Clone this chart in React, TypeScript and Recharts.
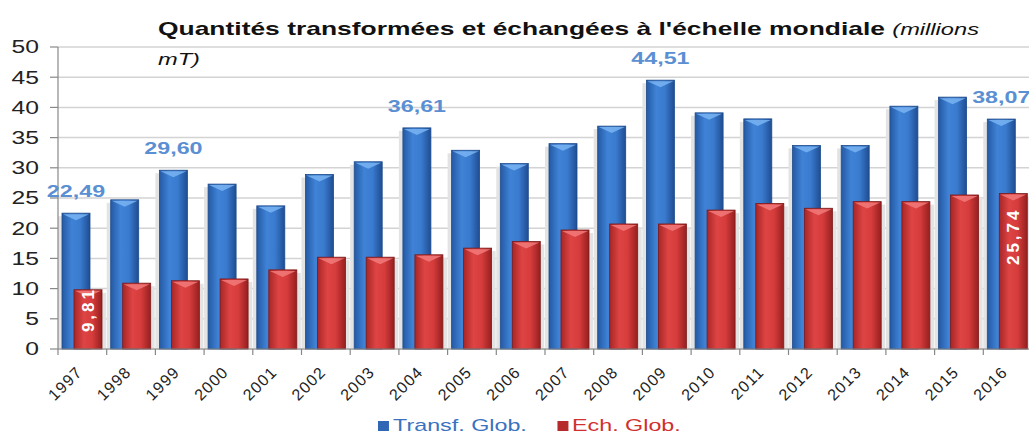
import React from "react";
import { BarChart, Bar, XAxis, YAxis, CartesianGrid, LabelList } from "recharts";

const years = ["1997", "1998", "1999", "2000", "2001", "2002", "2003", "2004", "2005", "2006",
    "2007", "2008", "2009", "2010", "2011", "2012", "2013", "2014", "2015", "2016"];
const transfGlob = [22.49, 24.7, 29.6, 27.3, 23.7, 28.9, 31.0, 36.61, 32.9, 30.7,
    34.0, 36.9, 44.51, 39.1, 38.1, 33.7, 33.7, 40.2, 41.7, 38.07];
const echGlob = [9.81, 10.9, 11.3, 11.6, 13.1, 15.2, 15.2, 15.6, 16.7, 17.8,
    19.7, 20.7, 20.7, 23.0, 24.1, 23.3, 24.4, 24.4, 25.5, 25.74];
const transfLabelYears = ["1997", "1999", "2004", "2009", "2016"];
const echLabelYears = ["1997", "2016"];
const yTicks = [0, 5, 10, 15, 20, 25, 30, 35, 40, 45, 50];

const data = years.map((year, i) => ({
    year,
    transf: transfGlob[i],
    ech: echGlob[i],
    transfLabel: transfLabelYears.includes(year) ? transfGlob[i] : null,
    echLabel: echLabelYears.includes(year) ? echGlob[i] : null,
}));

const FONT = "'Liberation Sans', Arial, sans-serif";
const STRETCH = 1.37;
const CHART_W = 1040;
const PLOT_LEFT = 58;
const PLOT_RIGHT = 8;
const band = (CHART_W - PLOT_LEFT - PLOT_RIGHT) / years.length;

const fmt = (v: number) => v.toFixed(2).replace(".", ",");

const YTick = (p: any) => (
    <text
        transform={`translate(${p.x},${p.y}) scale(${STRETCH},1)`}
        textAnchor="end"
        dy="0.36em"
        fontSize={18}
        fill="#222"
        fontFamily={FONT}
    >
        {p.payload.value}
    </text>
);

const XTick = (p: any) => (
    <g>
        <line x1={p.x - band / 2} x2={p.x - band / 2} y1={p.y} y2={p.y + 6} stroke="#888" strokeWidth={1.2} />
        <text
            transform={`translate(${p.x + 1},${p.y + 24}) rotate(-45)`}
            textAnchor="end"
            fontSize={16}
            fill="#222"
            fontFamily={FONT}
            letterSpacing={1.2}
        >
            {p.payload.value}
        </text>
    </g>
);

const cylinder = (gradId: string, cap: string, edge: string, shadowSide: number) => (p: any) => {
    const { x, y, width, height } = p;
    if (!height || height <= 0) return <g />;
    const c = Math.min(7, height);
    const sx = shadowSide > 0 ? x + width : x - 4;
    return (
        <g>
            <rect x={sx} y={y + 3} width={4} height={height - 3} fill="#e3e3e3" />
            <rect x={x} y={y} width={width} height={height} fill={`url(#${gradId})`} stroke={edge} strokeWidth={0.8} />
            <polygon
                points={`${x + 1},${y + 1} ${x + width - 1},${y + 1} ${x + width / 2},${y + c} `}
                fill={cap}
                opacity={0.85}
            />
        </g>
    );
};

const TransfLabel = (p: any) => {
    if (p.value == null) return null;
    const cx = p.x + p.width / 2;
    return (
        <text
            transform={`translate(${cx},${p.y - 16}) scale(${STRETCH},1)`}
            textAnchor="middle"
            fontSize={17}
            fontWeight="bold"
            fill="#5b8fd3"
            fontFamily={FONT}
        >
            {fmt(p.value)}
        </text>
    );
};

const EchLabel = (p: any) => {
    if (p.value == null) return null;
    const txt = fmt(p.value);
    const len = txt.length * 10.5;
    const start = Math.min(p.y + 14, p.y + p.height - len - 20);
    const cx = p.x + p.width / 2 + 6;
    return (
        <text
            transform={`translate(${cx},${start}) rotate(-90)`}
            textAnchor="end"
            fontSize={17}
            fontWeight="bold"
            fill="#fff"
            fontFamily={FONT}
            letterSpacing={3}
        >
            {txt}
        </text>
    );
};

export default function App() {
    return (
        <div style={{ position: "absolute", left: 0, top: 0, width: 1029, height: 434, overflow: "hidden", background: "#fff", fontFamily: FONT }}>
            <div style={{ position: "absolute", left: 158, top: 14, transform: `scaleX(1.39)`, transformOrigin: "left top", whiteSpace: "nowrap", lineHeight: "30px", fontSize: 19, color: "#111" }}>
                <div>
                    <span style={{ fontWeight: "bold" }}>Quantités transformées et échangées à l'échelle mondiale</span>{" "}
                    <span style={{ fontStyle: "italic", fontSize: 17 }}>(millions</span>
                </div>
                <div style={{ fontStyle: "italic", fontSize: 17 }}>mT)</div>
            </div>
            <BarChart
                width={CHART_W}
                height={434}
                data={data}
                margin={{ top: 47, right: PLOT_RIGHT, left: 0, bottom: 25 }}
                barSize={28}
                barGap={-16}
            >
                <defs>
                    <linearGradient id="gBlue" x1="0" y1="0" x2="1" y2="0">
                        <stop offset="0%" stopColor="#2459a3" />
                        <stop offset="35%" stopColor="#3f82d6" />
                        <stop offset="65%" stopColor="#3a7bcf" />
                        <stop offset="100%" stopColor="#1f4d92" />
                    </linearGradient>
                    <linearGradient id="gRed" x1="0" y1="0" x2="1" y2="0">
                        <stop offset="0%" stopColor="#a82626" />
                        <stop offset="35%" stopColor="#de4444" />
                        <stop offset="65%" stopColor="#d63c3c" />
                        <stop offset="100%" stopColor="#961f1f" />
                    </linearGradient>
                </defs>
                <CartesianGrid vertical={false} stroke="#d3d3d3" strokeWidth={1.5} />
                <XAxis
                    dataKey="year"
                    height={60}
                    tick={<XTick />}
                    tickLine={false}
                    tickSize={0}
                    tickMargin={0}
                    interval={0}
                    stroke="#888"
                    strokeWidth={1.2}
                />
                <YAxis
                    width={PLOT_LEFT}
                    domain={[0, 50]}
                    ticks={yTicks}
                    interval={0}
                    tick={<YTick />}
                    tickSize={8}
                    tickMargin={11}
                    stroke="#888"
                    strokeWidth={1.2}
                />
                <Bar dataKey="transf" name="Transf. Glob." isAnimationActive={false} shape={cylinder("gBlue", "#79b4f2", "#1d4a8c", -1)}>
                    <LabelList dataKey="transfLabel" content={<TransfLabel />} />
                </Bar>
                <Bar dataKey="ech" name="Ech. Glob." isAnimationActive={false} shape={cylinder("gRed", "#f27a7a", "#7c1a1a", 1)}>
                    <LabelList dataKey="echLabel" content={<EchLabel />} />
                </Bar>
            </BarChart>
            <div style={{ position: "absolute", left: 378, top: 416, transform: `scaleX(${STRETCH})`, transformOrigin: "left top", whiteSpace: "nowrap", fontSize: 17, lineHeight: "20px" }}>
                <span style={{ display: "inline-block", width: 8, height: 10, background: "#2f67b4", marginRight: 3 }} />
                <span style={{ color: "#3a72c0" }}>Transf. Glob.</span>
                <span style={{ display: "inline-block", width: 8, height: 10, background: "#b52a2a", marginLeft: 22, marginRight: 3 }} />
                <span style={{ color: "#d03030" }}>Ech. Glob.</span>
            </div>
        </div>
    );
}
